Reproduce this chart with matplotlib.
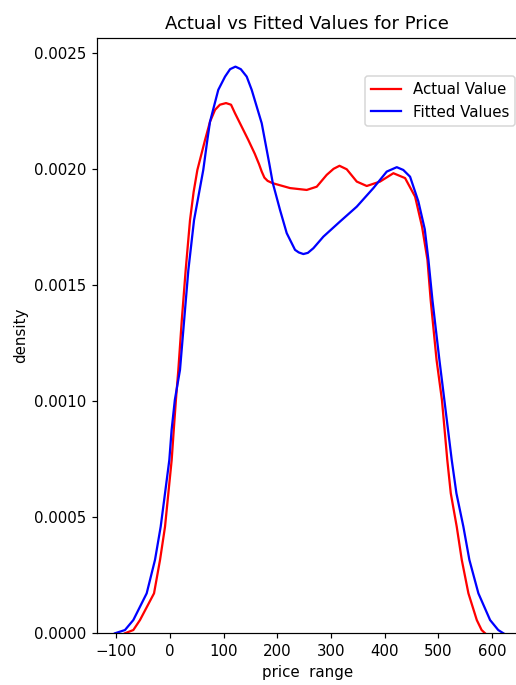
import matplotlib
matplotlib.use("Agg")
import matplotlib.pyplot as plt

# values (price, density)
actual_x = [-84, -68.4, -56, -29.8, -18.6, -9.3, -3.1, 3.1, 7, 11, 15.5, 22,
            29.2, 37.3, 44, 51, 65.3, 74.6, 84, 93, 104.4, 113.8, 121, 130.5,
            146, 158, 166, 171, 176, 182, 191.5, 223.8, 254.9, 273.6, 292.2,
            305, 316, 329.5, 348.2, 366.8, 391.6, 416.5, 438.3, 457, 470,
            480, 486, 497, 507, 517, 523.5, 534.6, 544, 556.4, 572, 581, 587.5]
actual_y = [0.0, 0.000014, 0.000057, 0.000172, 0.000316, 0.000459, 0.000603,
            0.000746, 0.000876, 0.001005, 0.001134, 0.00135, 0.001564,
            0.001779, 0.0019, 0.001995, 0.002124, 0.002203, 0.002254,
            0.002276, 0.002283, 0.002276, 0.00224, 0.002196, 0.002124,
            0.002065, 0.00202, 0.001988, 0.001962, 0.001948, 0.001938,
            0.001917, 0.001909, 0.001923, 0.001974, 0.002, 0.002013,
            0.001998, 0.001945, 0.001926, 0.001945, 0.001981, 0.00196,
            0.00188, 0.00175, 0.001608, 0.001435, 0.001177, 0.001005,
            0.000746, 0.000603, 0.000459, 0.000316, 0.000172, 0.000057,
            0.000014, 0.0]

fitted_x = [-102.6, -84, -68.4, -43.5, -28, -17.4, -9.3, -1.3, 3, 9, 18.6,
            34.2, 44.8, 62, 69.6, 74.6, 90, 102.6, 112, 122, 132, 143, 152.3,
            171, 185.3, 191.5, 205.1, 217.6, 233.1, 240, 248.6, 257, 267.3,
            286, 317, 348.2, 379.2, 404.1, 422.8, 435, 447.6, 463, 475,
            481.8, 489.3, 502.3, 511.5, 525.3, 534, 547, 558.2, 575, 596.8,
            612, 621.6]
fitted_y = [0.0, 0.000014, 0.000057, 0.000172, 0.000316, 0.000459, 0.000603,
            0.000746, 0.000876, 0.001005, 0.001134, 0.001564, 0.001779,
            0.001995, 0.002124, 0.002203, 0.00234, 0.002397, 0.002429,
            0.00244, 0.002429, 0.002397, 0.00234, 0.002196, 0.00202,
            0.00194, 0.001823, 0.001723, 0.001651, 0.00164, 0.001633,
            0.001638, 0.001658, 0.001708, 0.001773, 0.001837, 0.001917,
            0.001988, 0.002007, 0.001995, 0.001966, 0.00186, 0.00174,
            0.001608, 0.001435, 0.001177, 0.001005, 0.000746, 0.000603,
            0.000459, 0.000316, 0.000172, 0.000057, 0.000014, 0.0]

# rendered a bit larger than 100 dpi, like the reference
fig, ax = plt.subplots(figsize=(516 / 108, 685 / 108), dpi=108)
fig.subplots_adjust(left=0.1874, right=1.003, bottom=0.0755, top=0.9441)

ax.plot(actual_x, actual_y, color="r", linewidth=1.5, label="Actual Value")
ax.plot(fitted_x, fitted_y, color="b", linewidth=1.5, label="Fitted Values")

ax.set_xlim(-136.7, 648)
ax.set_ylim(0, 0.002562)
ax.set_xticks([-100, 0, 100, 200, 300, 400, 500, 600])
ax.set_yticks([0.0, 0.0005, 0.001, 0.0015, 0.002, 0.0025])
ax.set_yticklabels(["0.0000", "0.0005", "0.0010", "0.0015", "0.0020", "0.0025"])

ax.set_title("Actual vs Fitted Values for Price")
ax.set_xlabel("price  range")
ax.set_ylabel("density")
ax.legend(loc="upper right", bbox_to_anchor=(0.994, 0.9366), borderaxespad=0)

fig.savefig("out.png", dpi=108)
